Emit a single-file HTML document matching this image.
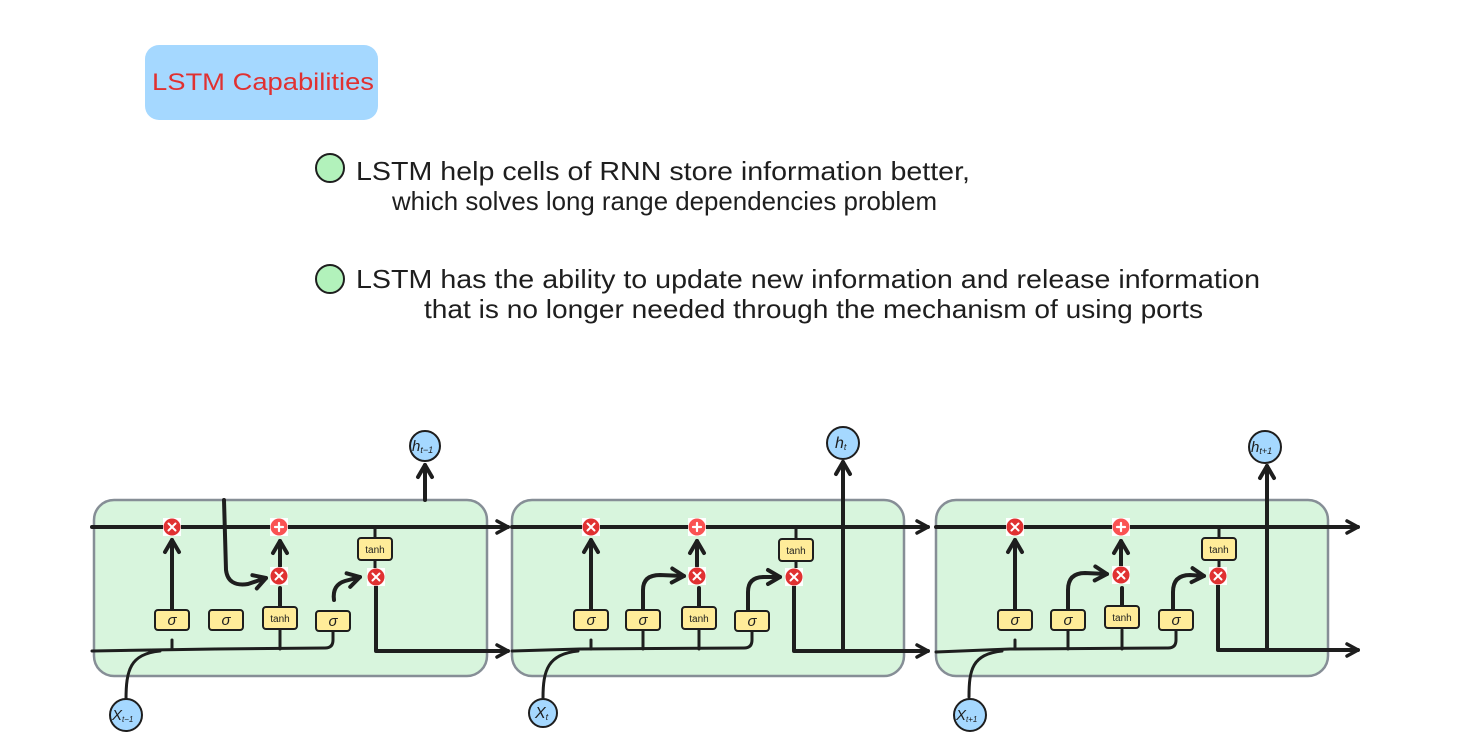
<!DOCTYPE html>
<html><head><meta charset="utf-8"><style>
html,body{margin:0;padding:0;background:#fff;}
svg{display:block;}
text{font-family:"Liberation Sans",sans-serif;}
</style></head><body>
<svg width="1468" height="737" viewBox="0 0 1468 737" xmlns="http://www.w3.org/2000/svg">
<defs>
<marker id="a" viewBox="0 0 12 12" refX="10" refY="6" markerWidth="12" markerHeight="12" orient="auto" markerUnits="userSpaceOnUse" style="overflow:visible">
<path d="M-1,0 L10,6 L-1,12" fill="none" stroke="#1e1e1e" stroke-width="3.5" stroke-linecap="round" stroke-linejoin="round"/>
</marker>
<marker id="b" viewBox="0 0 12 12" refX="10" refY="6" markerWidth="12" markerHeight="12" orient="auto" markerUnits="userSpaceOnUse" style="overflow:visible">
<path d="M-2,-1 L10,6 L-2,13" fill="none" stroke="#1e1e1e" stroke-width="4" stroke-linecap="round" stroke-linejoin="round"/>
</marker>
<g id="mul" stroke="none"><rect x="-9" y="-9" width="18" height="18" fill="#fff" stroke="none"/><circle r="8.5" fill="#e03131" stroke="none"/><path d="M-3.5,-3.5 L3.5,3.5 M3.5,-3.5 L-3.5,3.5" stroke="#fff" stroke-width="2"/></g>
<g id="add" stroke="none"><rect x="-9" y="-9" width="18" height="18" fill="#fff" stroke="none"/><circle r="8.5" fill="#fa5252" stroke="none"/><path d="M-4,0 L4,0 M0,-4 L0,4" stroke="#fff" stroke-width="2.2"/></g>
<g id="sig"><rect x="-17" y="-10" width="34" height="20" rx="3" fill="#ffec99" stroke="#1e1e1e" stroke-width="2"/><text x="0" y="5" font-size="15" font-style="italic" text-anchor="middle" font-family="Liberation Serif,serif" stroke="none" fill="#1e1e1e">σ</text></g>
<g id="tnh"><rect x="-17" y="-11" width="34" height="22" rx="3" fill="#ffec99" stroke="#1e1e1e" stroke-width="2"/><text x="0" y="4" font-size="10" text-anchor="middle" stroke="none" fill="#1e1e1e">tanh</text></g>
</defs>

<rect x="145" y="45" width="233" height="75" rx="14" fill="#a5d8ff"/>
<text x="152" y="90" font-size="24" fill="#e03131" textLength="222" lengthAdjust="spacingAndGlyphs">LSTM Capabilities</text>

<circle cx="330" cy="168" r="14" fill="#b2f2bb" stroke="#1e1e1e" stroke-width="2"/>
<text x="356" y="180" font-size="26" fill="#1e1e1e" textLength="614" lengthAdjust="spacingAndGlyphs">LSTM help cells of RNN store information better,</text>
<text x="392" y="210" font-size="26" fill="#1e1e1e" textLength="545" lengthAdjust="spacingAndGlyphs">which solves long range dependencies problem</text>
<circle cx="330" cy="279" r="14" fill="#b2f2bb" stroke="#1e1e1e" stroke-width="2"/>
<text x="356" y="288" font-size="26" fill="#1e1e1e" textLength="904" lengthAdjust="spacingAndGlyphs">LSTM has the ability to update new information and release information</text>
<text x="424" y="318" font-size="26" fill="#1e1e1e" textLength="779" lengthAdjust="spacingAndGlyphs">that is no longer needed through the mechanism of using ports</text>

<g stroke="#1e1e1e" fill="none" stroke-linecap="round" stroke-linejoin="round">
<rect x="94" y="500" width="393" height="176" rx="20" fill="#d8f5dd" stroke="#868e96" stroke-width="2.5"/>
<rect x="512" y="500" width="392" height="176" rx="20" fill="#d8f5dd" stroke="#868e96" stroke-width="2.5"/>
<rect x="936" y="500" width="392" height="176" rx="20" fill="#d8f5dd" stroke="#868e96" stroke-width="2.5"/>

<path d="M92,527 L508,527" stroke-width="4" marker-end="url(#a)"/>
<path d="M512,527 L928,527" stroke-width="4" marker-end="url(#a)"/>
<path d="M936,527 L1358,527" stroke-width="4" marker-end="url(#a)"/>

<!-- CELL 1 -->
<path d="M92,651 L215,649 L325,648 Q333,648 333,640 L333,630" stroke-width="3"/>
<path d="M126,700 C126,670 130,654 160,651" stroke-width="3"/>
<path d="M172,640 L172,649 M280,630 L280,649" stroke-width="3"/>
<path d="M172,610 L172,540" stroke-width="4" marker-end="url(#b)"/>
<path d="M280,610 L280,588" stroke-width="4"/>
<path d="M280,566 L280,541" stroke-width="4" marker-end="url(#b)"/>
<path d="M224,500 L226,570 Q228,587 248,584 L266,578" stroke-width="4" marker-end="url(#b)"/>
<path d="M334,600 Q332,585 345,581 L360,577" stroke-width="4" marker-end="url(#b)"/>
<path d="M375,527 L375,538 M375,561 L375,568" stroke-width="3"/>
<path d="M376,586 L376,651 L508,651" stroke-width="4" marker-end="url(#a)"/>
<path d="M425,500 L425,465" stroke-width="4" marker-end="url(#b)"/>
<use href="#sig" x="172" y="620"/><use href="#sig" x="226" y="620"/><use href="#tnh" x="280" y="618"/><use href="#sig" x="333" y="621"/>
<use href="#tnh" x="375" y="549"/>
<use href="#mul" x="172" y="527"/><use href="#add" x="279" y="527"/><use href="#mul" x="279" y="576"/><use href="#mul" x="376" y="577"/>

<!-- CELL 2 -->
<path d="M512,651 L580,649 L744,648 Q752,648 752,640 L752,630" stroke-width="3"/>
<path d="M543,698 C543,670 548,654 578,651" stroke-width="3"/>
<path d="M591,640 L591,649 M643,630 L643,649 M699,630 L699,649" stroke-width="3"/>
<path d="M591,610 L591,540" stroke-width="4" marker-end="url(#b)"/>
<path d="M699,608 L699,588" stroke-width="4"/>
<path d="M697,566 L697,541" stroke-width="4" marker-end="url(#b)"/>
<path d="M643,610 L643,590 Q643,575 660,575 L684,576" stroke-width="4" marker-end="url(#b)"/>
<path d="M748,610 L748,592 Q748,577 764,577 L780,577" stroke-width="4" marker-end="url(#b)"/>
<path d="M796,527 L796,538 M796,561 L796,568" stroke-width="3"/>
<path d="M794,586 L794,651 L928,651" stroke-width="4" marker-end="url(#a)"/>
<path d="M843,650 L843,462" stroke-width="4" marker-end="url(#b)"/>
<use href="#sig" x="591" y="620"/><use href="#sig" x="643" y="620"/><use href="#tnh" x="699" y="618"/><use href="#sig" x="752" y="621"/>
<use href="#tnh" x="796" y="550"/>
<use href="#mul" x="591" y="527"/><use href="#add" x="697" y="527"/><use href="#mul" x="697" y="576"/><use href="#mul" x="794" y="577"/>

<!-- CELL 3 -->
<path d="M936,652 L1010,649 L1168,648 Q1176,648 1176,640 L1176,630" stroke-width="3"/>
<path d="M969,697 C969,670 972,654 1002,651" stroke-width="3"/>
<path d="M1015,640 L1015,649 M1068,630 L1068,649 M1122,630 L1122,649" stroke-width="3"/>
<path d="M1015,610 L1015,540" stroke-width="4" marker-end="url(#b)"/>
<path d="M1122,608 L1122,588" stroke-width="4"/>
<path d="M1121,566 L1121,541" stroke-width="4" marker-end="url(#b)"/>
<path d="M1068,610 L1068,590 Q1068,573 1085,573 L1107,574" stroke-width="4" marker-end="url(#b)"/>
<path d="M1173,610 L1173,592 Q1173,575 1190,575 L1204,576" stroke-width="4" marker-end="url(#b)"/>
<path d="M1219,527 L1219,538 M1219,561 L1219,568" stroke-width="3"/>
<path d="M1218,585 L1218,650 L1358,650" stroke-width="4" marker-end="url(#a)"/>
<path d="M1267,650 L1267,466" stroke-width="4" marker-end="url(#b)"/>
<use href="#sig" x="1015" y="620"/><use href="#sig" x="1068" y="620"/><use href="#tnh" x="1122" y="617"/><use href="#sig" x="1176" y="620"/>
<use href="#tnh" x="1219" y="549"/>
<use href="#mul" x="1015" y="527"/><use href="#add" x="1121" y="527"/><use href="#mul" x="1121" y="575"/><use href="#mul" x="1218" y="576"/>

<circle cx="425" cy="446" r="15" fill="#a5d8ff" stroke-width="2"/>
<circle cx="843" cy="443" r="16" fill="#a5d8ff" stroke-width="2"/>
<circle cx="1265" cy="447" r="16" fill="#a5d8ff" stroke-width="2"/>
<circle cx="126" cy="715" r="16" fill="#a5d8ff" stroke-width="2"/>
<circle cx="543" cy="713" r="14" fill="#a5d8ff" stroke-width="2"/>
<circle cx="970" cy="715" r="16" fill="#a5d8ff" stroke-width="2"/>
</g>
<g font-family="Liberation Serif,serif" font-style="italic" fill="#1e1e1e">
<text x="412" y="451" font-size="15">h<tspan font-size="9" dy="2">t−1</tspan></text>
<text x="835" y="448" font-size="16">h<tspan font-size="9" dy="2">t</tspan></text>
<text x="1251" y="452" font-size="15">h<tspan font-size="9" dy="2">t+1</tspan></text>
<text x="112" y="720" font-size="15">X<tspan font-size="8" dy="2">t−1</tspan></text>
<text x="535" y="718" font-size="16">X<tspan font-size="9" dy="2">t</tspan></text>
<text x="956" y="720" font-size="15">X<tspan font-size="8" dy="2">t+1</tspan></text>
</g>
</svg>
</body></html>
